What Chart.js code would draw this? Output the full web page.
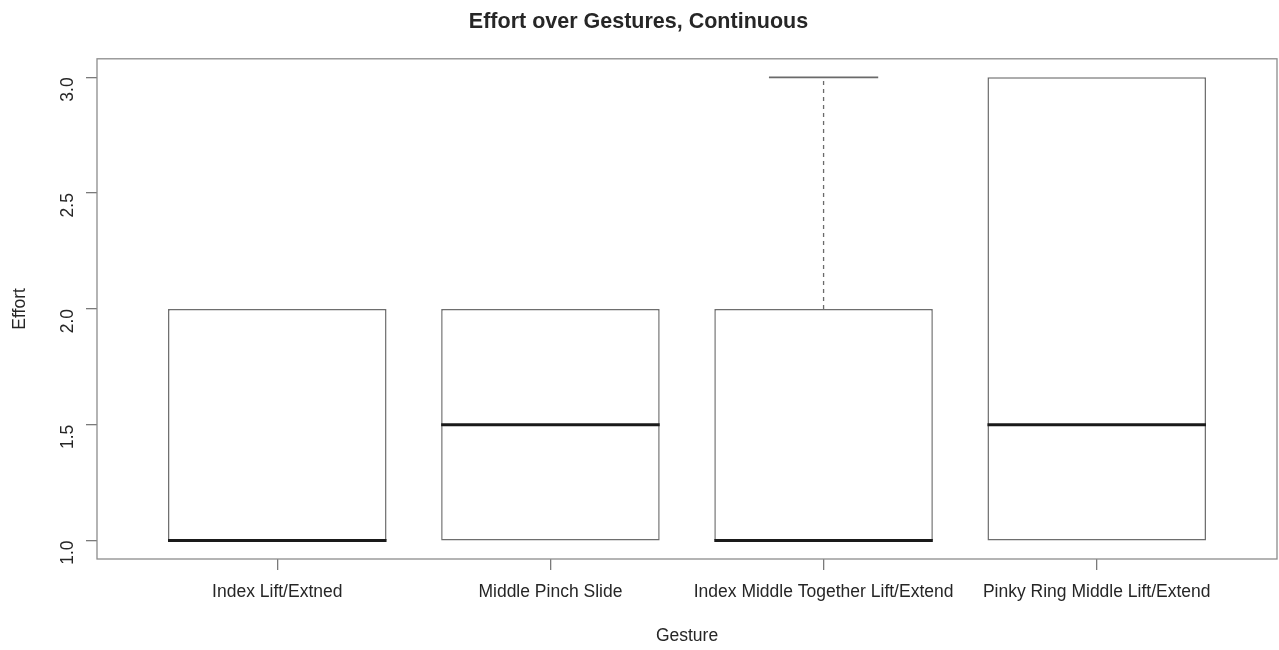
<!DOCTYPE html>
<html>
<head>
<meta charset="utf-8">
<script src="https://cdn.jsdelivr.net/npm/chart.js@4"></script>
<style>
  html, body { margin: 0; padding: 0; background: #fff; }
  canvas { display: block; }
</style>
</head>
<body>
<canvas id="chart" width="1279" height="650"></canvas>
<script>
  const gestures = [
    "Index Lift/Extned",
    "Middle Pinch Slide",
    "Index Middle Together Lift/Extend",
    "Pinky Ring Middle Lift/Extend"
  ];
  const lowWhisker = [1, 1, 1, 1];
  const lowerQuartile = [1, 1, 1, 1];
  const medians = [1, 1.5, 1, 1.5];
  const upperQuartile = [2, 2, 2, 3];
  const highWhisker = [2, 2, 3, 3];
  const effortTicks = [1.0, 1.5, 2.0, 2.5, 3.0];

  const fontFamily = "'Liberation Sans', Arial, Helvetica, sans-serif";
  const textColor = "#262626";

  // medians, whiskers and the plot frame, drawn on top of the boxes
  const boxExtras = {
    id: "boxExtras",
    afterDatasetsDraw(chart) {
      const ctx = chart.ctx;
      const yScale = chart.scales.y;
      const bars = chart.getDatasetMeta(0).data;
      ctx.save();

      bars.forEach((bar, i) => {
        const half = bar.width / 2;
        const yMed = yScale.getPixelForValue(medians[i]);

        // whiskers (dashed) and caps
        const drawWhisker = (from, to) => {
          if (from === to) return;
          const y0 = yScale.getPixelForValue(from);
          const y1 = yScale.getPixelForValue(to);
          ctx.strokeStyle = "#6a6a6a";
          ctx.lineWidth = 1.3;
          ctx.setLineDash([4, 4]);
          ctx.beginPath();
          ctx.moveTo(bar.x, y0);
          ctx.lineTo(bar.x, y1);
          ctx.stroke();
          ctx.setLineDash([]);
          ctx.lineWidth = 1.6;
          ctx.beginPath();
          ctx.moveTo(bar.x - half / 2, y1);
          ctx.lineTo(bar.x + half / 2, y1);
          ctx.stroke();
        };
        drawWhisker(upperQuartile[i], highWhisker[i]);
        drawWhisker(lowerQuartile[i], lowWhisker[i]);

        ctx.strokeStyle = "#1a1a1a";
        ctx.lineWidth = 3;
        ctx.beginPath();
        ctx.moveTo(bar.x - half, yMed);
        ctx.lineTo(bar.x + half, yMed);
        ctx.stroke();
      });

      const a = chart.chartArea;
      ctx.strokeStyle = "#8c8c8c";
      ctx.lineWidth = 1.3;
      ctx.strokeRect(a.left, a.top, a.right - a.left, a.bottom - a.top);
      ctx.restore();
    }
  };

  const ctx = document.getElementById("chart").getContext("2d");
  new Chart(ctx, {
    type: "bar",
    data: {
      datasets: [
        {
          label: "Effort",
          data: gestures.map((g, i) => ({
            x: i + 1,
            y: [lowerQuartile[i], upperQuartile[i]]
          })),
          backgroundColor: "#ffffff",
          borderColor: "#6e6e6e",
          borderWidth: 1.5,
          borderSkipped: false,
          categoryPercentage: 1,
          barPercentage: 0.8
        }
      ]
    },
    options: {
      responsive: false,
      animation: false,
      devicePixelRatio: 1,
      layout: { padding: { left: 0, right: 2, top: 0, bottom: 0 } },
      plugins: {
        legend: { display: false },
        tooltip: { enabled: false },
        title: {
          display: true,
          text: "Effort over Gestures, Continuous",
          color: textColor,
          font: { family: fontFamily, size: 21.5, weight: "bold", lineHeight: 1.2 },
          padding: { top: 9, bottom: 24 }
        }
      },
      scales: {
        x: {
          type: "linear",
          min: 0.34,
          max: 4.66,
          offset: false,
          afterBuildTicks: (scale) => {
            scale.ticks = gestures.map((g, i) => ({ value: i + 1 }));
          },
          afterFit: (scale) => { scale.height = 91; },
          ticks: {
            autoSkip: false,
            maxRotation: 0,
            minRotation: 0,
            padding: 12,
            color: textColor,
            font: { family: fontFamily, size: 17.5 },
            callback: (v) => gestures[v - 1]
          },
          grid: {
            offset: false,
            drawOnChartArea: false,
            drawTicks: true,
            tickLength: 11,
            color: "#7a7a7a",
            lineWidth: 1.3
          },
          border: { display: false },
          title: {
            display: true,
            text: "Gesture",
            color: textColor,
            font: { family: fontFamily, size: 17.5 },
            padding: { top: 0, bottom: 3 }
          }
        },
        y: {
          type: "linear",
          min: 0.92,
          max: 3.08,
          afterBuildTicks: (scale) => {
            scale.ticks = effortTicks.map((v) => ({ value: v }));
          },
          afterFit: (scale) => { scale.width = 97; },
          ticks: {
            minRotation: 90,
            maxRotation: 90,
            padding: 18,
            color: textColor,
            font: { family: fontFamily, size: 17.5 },
            callback: (v) => v.toFixed(1)
          },
          grid: {
            drawOnChartArea: false,
            drawTicks: true,
            tickLength: 11,
            color: "#7a7a7a",
            lineWidth: 1.3
          },
          border: { display: false },
          title: {
            display: true,
            text: "Effort",
            color: textColor,
            font: { family: fontFamily, size: 17.5 },
            padding: { top: 10, bottom: 0 }
          }
        }
      }
    },
    plugins: [boxExtras]
  });
</script>
</body>
</html>
